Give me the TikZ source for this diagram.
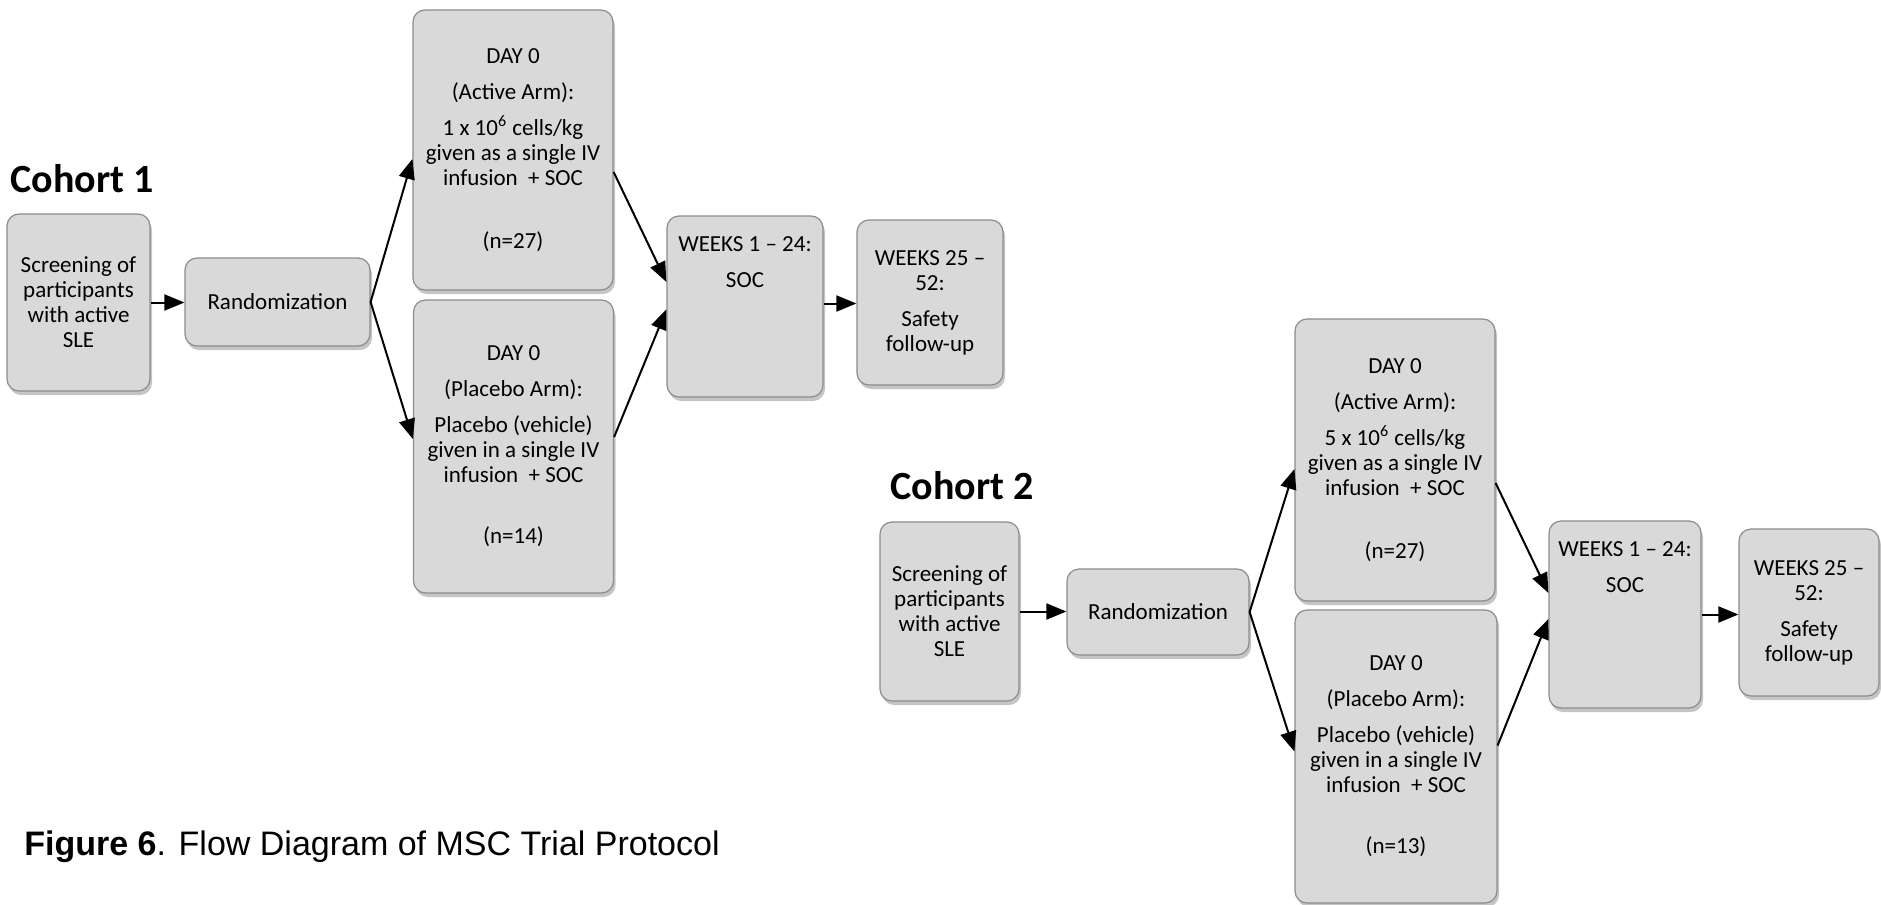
\documentclass[tikz,border=0pt]{standalone}
\usepackage{fontspec}
\setmainfont{Carlito}
\newfontfamily\capfont{Liberation Sans}
\usetikzlibrary{arrows.meta,shadows}
\definecolor{boxfill}{HTML}{D9D9D9}
\definecolor{boxline}{HTML}{8C8C8C}
\tikzset{
  box/.style={draw=boxline, line width=0.6pt, fill=boxfill, rounded corners=6pt, inner sep=0pt,
    drop shadow={shadow xshift=1pt, shadow yshift=-2pt, fill=black!50, opacity=0.45},
    font=\fontsize{11.5}{12.5}\selectfont},
  arr/.style={-{Triangle[length=10pt,width=8pt]}, line width=1pt, black},
  cohort/.style={font=\fontsize{20}{24}\selectfont\bfseries, anchor=west, inner sep=0pt},
}
\begin{document}
\begin{tikzpicture}[x=0.5pt,y=-0.5pt]
\fill[white] (0,0) rectangle (1881,905);
\useasboundingbox (0,0) rectangle (1881,905);

% ---------- Cohort 1 ----------
\node[cohort] (c1) at (10,179) {Cohort 1};
\node[box] (s1) at (78.5,302.5) {\parbox[c][88.5pt][c]{71.5pt}{\centering Screening of\\participants\\with active\\SLE}};
\node[box] (r1) at (277.5,302) {\parbox[c][44pt][c]{92.5pt}{\centering Randomization}};
\node[box] (a1) at (513,150) {\parbox[c][140pt][c]{100pt}{\centering DAY 0\\[5.5pt](Active Arm):\\[5.5pt]1 x 10\textsuperscript{6} cells/kg\\given as a single IV\\infusion \ + SOC\\[19pt](n=27)}};
\node[box] (p1) at (513.5,446.5) {\parbox[c][146.5pt][c]{100pt}{\centering DAY 0\\[5.5pt](Placebo Arm):\\[5.5pt]Placebo (vehicle)\\given in a single IV\\infusion \ + SOC\\[18pt](n=14)}};
\node[box] (w1) at (745,306.5) {\parbox[c][90.5pt][t]{78pt}{\vspace*{9pt}\centering\strut WEEKS 1 -- 24:\\[5.5pt]SOC}};
\node[box] (f1) at (930,302.5) {\parbox[c][82.5pt][c]{73pt}{\centering WEEKS 25 --\\52:\\[5.5pt]Safety\\follow-up}};

\draw[arr] (s1.east) -- (s1.east -| r1.west);
\draw[arr] (r1.east) -- ([yshift=-4.5pt]a1.west);
\draw[arr] (r1.east) -- ([yshift=3.75pt]p1.west);
\draw[arr] ([yshift=-11pt]a1.east) -- ([yshift=12.25pt]w1.west);
\draw[arr] ([yshift=4.75pt]p1.east) -- ([yshift=-1.5pt]w1.west);
\draw[arr] ([yshift=1.5pt]w1.east) -- ([yshift=1.5pt]w1.east -| f1.west);

% ---------- Cohort 2 ----------
\node[cohort] (c2) at (890,486) {Cohort 2};
\node[box] (s2) at (949.5,611.5) {\parbox[c][89.5pt][c]{69.5pt}{\centering Screening of\\participants\\with active\\SLE}};
\node[box] (r2) at (1158,612) {\parbox[c][43pt][c]{91pt}{\centering Randomization}};
\node[box] (a2) at (1395,460) {\parbox[c][141pt][c]{100pt}{\centering DAY 0\\[5.5pt](Active Arm):\\[5.5pt]5 x 10\textsuperscript{6} cells/kg\\given as a single IV\\infusion \ + SOC\\[19pt](n=27)}};
\node[box] (p2) at (1396,756.5) {\parbox[c][146.5pt][c]{101pt}{\centering DAY 0\\[5.5pt](Placebo Arm):\\[5.5pt]Placebo (vehicle)\\given in a single IV\\infusion \ + SOC\\[18pt](n=13)}};
\node[box] (w2) at (1625,614.5) {\parbox[c][93.5pt][t]{76pt}{\vspace*{9pt}\centering\strut WEEKS 1 -- 24:\\[5.5pt]SOC}};
\node[box] (f2) at (1809,612.5) {\parbox[c][83.5pt][c]{70pt}{\centering WEEKS 25 --\\52:\\[5.5pt]Safety\\follow-up}};

\draw[arr] (s2.east) -- (s2.east -| r2.west);
\draw[arr] (r2.east) -- ([yshift=-4.5pt]a2.west);
\draw[arr] (r2.east) -- ([yshift=2.5pt]p2.west);
\draw[arr] ([yshift=-11.5pt]a2.east) -- ([yshift=10.75pt]w2.west);
\draw[arr] ([yshift=5.5pt]p2.east) -- ([yshift=-2.25pt]w2.west);
\draw[arr] (w2.east) -- (w2.east -| f2.west);

% ---------- Caption ----------
\node[anchor=west, inner sep=0pt, font=\capfont\fontsize{17}{20}\selectfont] (cap) at (24,847)
  {\textbf{Figure 6}. Flow Diagram of MSC Trial Protocol};
\end{tikzpicture}
\end{document}
